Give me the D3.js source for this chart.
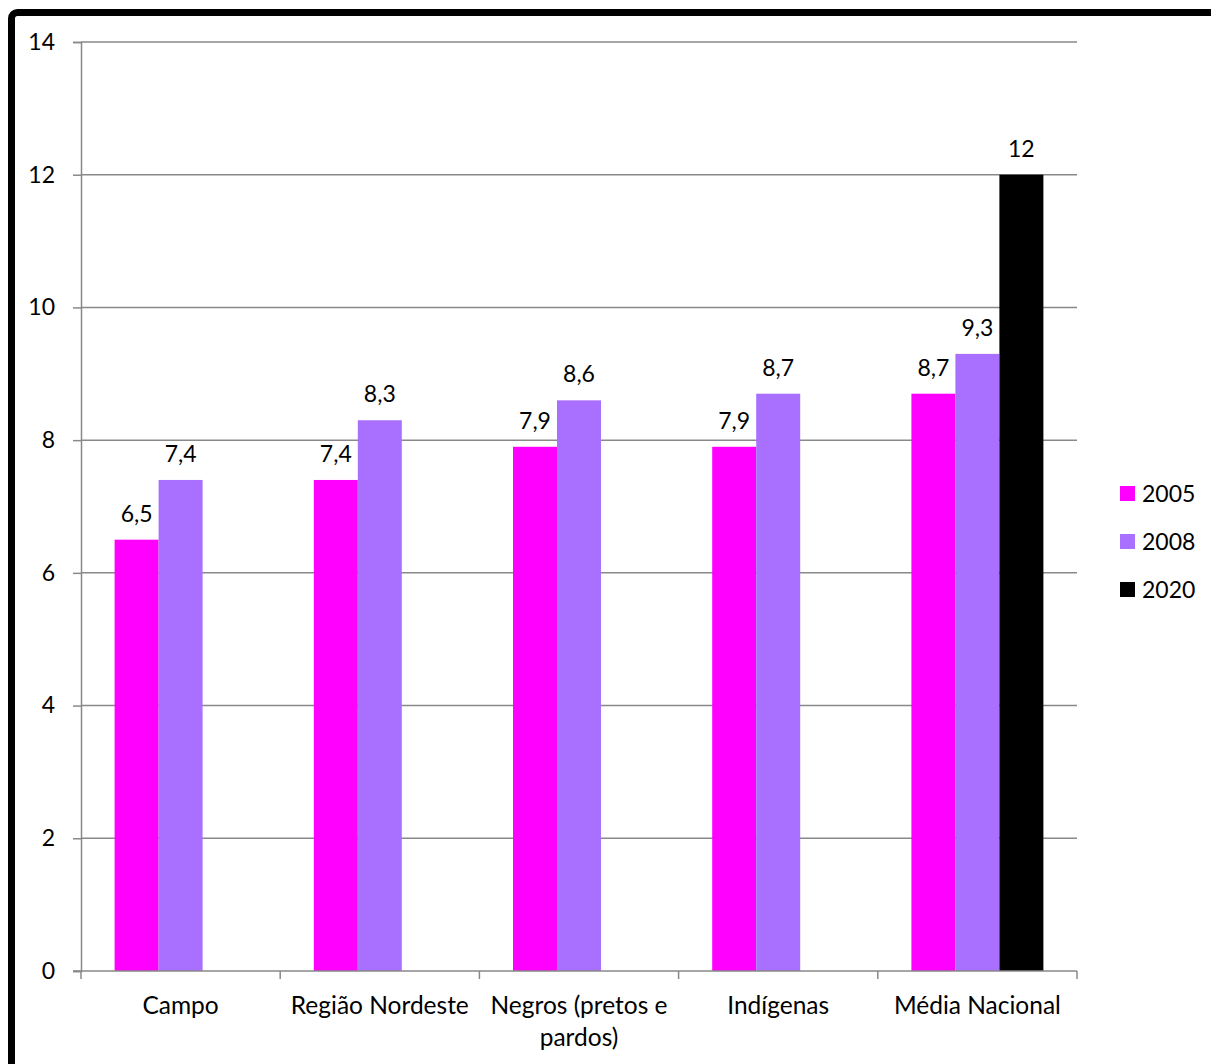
<!DOCTYPE html>
<html>
<head>
<meta charset="utf-8">
<script src="https://cdn.jsdelivr.net/npm/d3@7"></script>
<style>
html,body{margin:0;padding:0;background:#fff;}
svg{display:block;}
text{font-family:Lato,"Open Sans",sans-serif;fill:#000;}
</style>
</head>
<body>
<svg id="chart" width="1211" height="1064"></svg>
<script>
const categories = ["Campo", "Região Nordeste", "Negros (pretos e pardos)", "Indígenas", "Média Nacional"];
const seriesNames = ["2005", "2008", "2020"];
const values2005 = [6.5, 7.4, 7.9, 7.9, 8.7];
const values2008 = [7.4, 8.3, 8.6, 8.7, 9.3];
const values2020 = [null, null, null, null, 12];
const yTicks = [0, 2, 4, 6, 8, 10, 12, 14];
const colors = ["#FF00FF", "#A970FF", "#000000"];

(function () {
const FS = 23;
const series = [values2005, values2008, values2020];
const svg = d3.select("#chart");

// outer frame
svg.append("rect").attr("x", 11.5).attr("y", 12.5).attr("width", 1300).attr("height", 1200)
  .attr("rx", 6).attr("fill", "none").attr("stroke", "#000").attr("stroke-width", 7);

const pLeft = 81, pRight = 1077, pTop = 42, pBottom = 971;
const x = d3.scaleBand().domain(categories).range([pLeft, pRight]).paddingInner(0).paddingOuter(0);
const xs = d3.scaleBand().domain(seriesNames).range([0, x.bandwidth()]).paddingInner(0).paddingOuter(0.764);
const y = d3.scaleLinear().domain([0, 14]).range([pBottom, pTop]);

// gridlines
svg.append("g").selectAll("line").data(yTicks.filter(d => d > 0)).join("line")
  .attr("x1", pLeft).attr("x2", pRight).attr("y1", d => y(d)).attr("y2", d => y(d))
  .attr("stroke", "#898989").attr("stroke-width", 1.5);

// y axis
const yAxis = d3.axisLeft(y).tickValues(yTicks).tickSize(8).tickPadding(18).tickFormat(d3.format("d"));
const gy = svg.append("g").attr("transform", `translate(${pLeft},0)`).call(yAxis);
gy.select(".domain").attr("stroke", "#898989").attr("stroke-width", 1.5);
gy.selectAll(".tick line").attr("stroke", "#898989").attr("stroke-width", 1.5);
gy.selectAll(".tick text").attr("font-size", FS).attr("font-family", "Lato, sans-serif").attr("fill", "#000");

// bars
const groups = svg.append("g").selectAll("g").data(categories).join("g")
  .attr("transform", d => `translate(${x(d)},0)`);
series.forEach((vals, si) => {
  groups.filter((d, i) => vals[i] != null).append("rect")
    .attr("x", xs(seriesNames[si]))
    .attr("width", xs.bandwidth())
    .attr("y", d => y(vals[categories.indexOf(d)]))
    .attr("height", d => pBottom - y(vals[categories.indexOf(d)]))
    .attr("fill", colors[si]);
  groups.filter((d, i) => vals[i] != null).append("text")
    .attr("x", xs(seriesNames[si]) + xs.bandwidth() / 2)
    .attr("y", d => y(vals[categories.indexOf(d)]) - 18)
    .attr("text-anchor", "middle").attr("font-size", FS)
    .text(d => String(vals[categories.indexOf(d)]).replace(".", ","));
});

// x axis
svg.append("line").attr("x1", pLeft - 8).attr("x2", pRight).attr("y1", pBottom).attr("y2", pBottom)
  .attr("stroke", "#898989").attr("stroke-width", 1.5);
const boundaries = categories.map(c => x(c)).concat([pRight]);
svg.append("g").selectAll("line").data(boundaries).join("line")
  .attr("x1", d => d).attr("x2", d => d).attr("y1", pBottom).attr("y2", pBottom + 8)
  .attr("stroke", "#898989").attr("stroke-width", 1.5);

// category labels with wrapping
const labelLines = {"Negros (pretos e pardos)": ["Negros (pretos e", "pardos)"]};
categories.forEach(c => {
  const lines = labelLines[c] || [c];
  const t = svg.append("text").attr("text-anchor", "middle").attr("font-size", 24.5)
    .attr("x", x(c) + x.bandwidth() / 2).attr("y", pBottom + 43);
  lines.forEach((ln, i) => t.append("tspan").attr("x", x(c) + x.bandwidth() / 2).attr("dy", i ? 32 : 0).text(ln));
});

// legend
const legend = svg.append("g").selectAll("g").data(seriesNames).join("g")
  .attr("transform", (d, i) => `translate(1120,${486 + i * 48})`);
legend.append("rect").attr("width", 15).attr("height", 15).attr("fill", (d, i) => colors[i]);
legend.append("text").attr("x", 22).attr("y", 7.5).attr("dy", "0.35em").attr("font-size", FS).text(d => d);
})();
</script>
</body>
</html>
